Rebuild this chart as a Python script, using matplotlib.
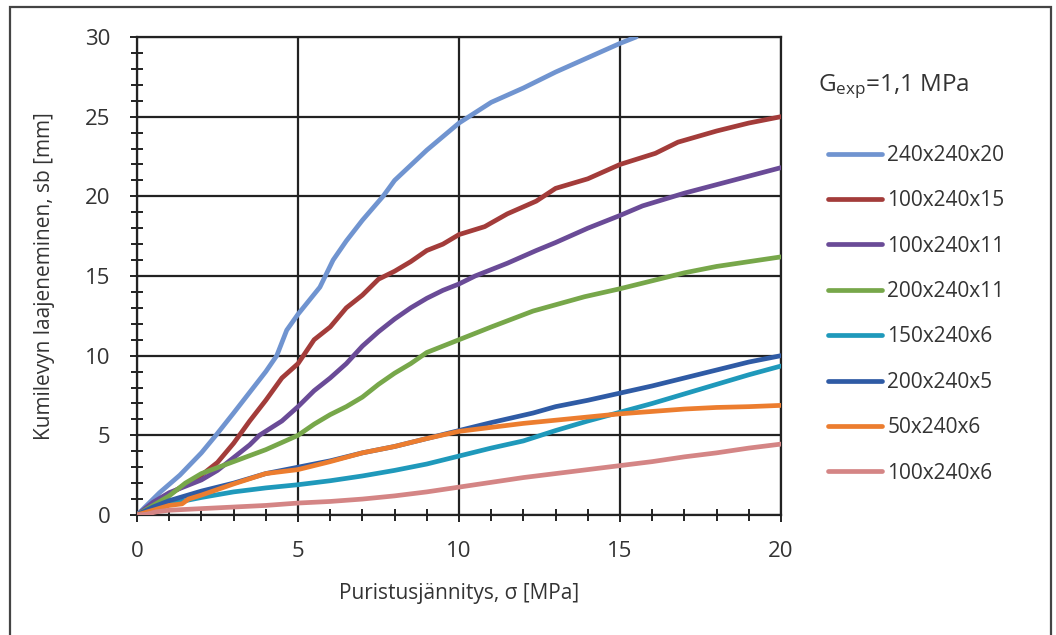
import numpy as np
import matplotlib
matplotlib.use("Agg")
import matplotlib.pyplot as plt
from matplotlib.patches import Rectangle
from matplotlib.ticker import MultipleLocator

plt.rcParams['font.family'] = ['Open Sans', 'DejaVu Sans']
plt.rcParams['mathtext.fontset'] = 'custom'
plt.rcParams['mathtext.rm'] = 'Open Sans'
plt.rcParams['mathtext.it'] = 'Open Sans'

# Data (x = stress MPa, y = expansion mm)
x_240x240x20 = [0, 0.7, 1.33, 2.0, 2.45, 3.0, 3.5, 4.0, 4.34, 4.65, 5.0, 5.68, 6.09, 6.5, 7.0,
                7.64, 8.0, 9.0, 10.0, 11.0, 12.0, 13.0, 14.0, 15.0, 15.5]
y_240x240x20 = [0, 1.4, 2.5, 3.9, 5.0, 6.4, 7.7, 9.0, 10.0, 11.6, 12.6, 14.3, 16.0, 17.2, 18.5,
                20.0, 21.0, 22.9, 24.6, 25.9, 26.8, 27.8, 28.7, 29.6, 30.0]

x_100x240x15 = [0, 1, 2, 2.5, 3, 3.5, 4, 4.5, 5, 5.5, 6, 6.5, 7, 7.5, 8, 8.5, 9, 9.5, 10,
                10.8, 11.5, 12.4, 13, 14, 15, 16.1, 16.8, 18, 19, 20]
y_100x240x15 = [0, 1.3, 2.5, 3.3, 4.5, 5.9, 7.2, 8.6, 9.5, 11.0, 11.8, 13.0, 13.8, 14.8, 15.3,
                15.9, 16.6, 17.0, 17.6, 18.1, 18.9, 19.7, 20.5, 21.1, 22.0, 22.7, 23.4, 24.1, 24.6, 25.0]

x_100x240x11 = [0, 0.5, 1, 2, 2.5, 3, 3.5, 3.8, 4.5, 5, 5.5, 6, 6.5, 7, 7.5, 8, 8.5, 9, 9.5,
                10, 10.5, 11.5, 12.4, 13, 14, 15, 15.7, 17, 18.5, 20]
y_100x240x11 = [0, 0.8, 1.4, 2.2, 2.8, 3.6, 4.4, 5.0, 5.9, 6.8, 7.8, 8.6, 9.5, 10.6, 11.5, 12.3,
                13.0, 13.6, 14.1, 14.5, 15.0, 15.8, 16.6, 17.1, 18.0, 18.8, 19.4, 20.2, 21.0, 21.8]

x_200x240x11 = [0, 0.5, 1, 1.5, 2, 3, 4, 5, 5.5, 6, 6.5, 7, 7.5, 8, 8.5, 9, 10, 11, 12.3,
                13.9, 15, 17, 18, 20]
y_200x240x11 = [0, 0.6, 1.2, 2.0, 2.6, 3.35, 4.1, 5.0, 5.7, 6.3, 6.8, 7.4, 8.2, 8.9, 9.5, 10.2,
                11.0, 11.8, 12.8, 13.7, 14.2, 15.2, 15.6, 16.2]

x_150x240x6 = [0, 0.5, 1, 2, 3, 4, 5, 6, 7, 8, 9, 10, 11, 12, 13, 14, 15, 16, 17, 18, 19, 20]
y_150x240x6 = [0, 0.35, 0.7, 1.1, 1.45, 1.7, 1.9, 2.15, 2.45, 2.8, 3.2, 3.7, 4.2, 4.65, 5.3,
               5.9, 6.45, 7.0, 7.6, 8.2, 8.8, 9.35]

x_200x240x5 = [0, 0.5, 1, 2, 3, 4, 4.5, 5, 6, 7, 8, 9, 10, 11, 12.3, 13, 14, 15, 16, 17, 18, 19, 20]
y_200x240x5 = [0, 0.5, 0.9, 1.5, 2.0, 2.6, 2.8, 3.0, 3.4, 3.9, 4.3, 4.8, 5.3, 5.8, 6.4, 6.8,
               7.2, 7.65, 8.1, 8.6, 9.1, 9.6, 10.0]

x_50x240x6 = [0, 0.5, 1, 1.4, 1.6, 2, 3, 4, 5, 6, 7, 8, 9, 10, 11, 12, 13, 14, 15, 16, 17, 18, 19, 20]
y_50x240x6 = [0, 0.3, 0.6, 0.7, 1.0, 1.25, 1.95, 2.6, 2.85, 3.35, 3.9, 4.3, 4.8, 5.25, 5.5,
              5.75, 5.95, 6.15, 6.35, 6.5, 6.65, 6.75, 6.8, 6.88]

x_100x240x6 = [0, 0.3, 0.6, 1, 2, 3, 4, 5, 6, 7, 8, 9, 10, 11, 12, 13, 14, 15, 16, 17, 18, 19, 20]
y_100x240x6 = [0, 0.05, 0.2, 0.3, 0.4, 0.5, 0.6, 0.75, 0.85, 1.0, 1.2, 1.45, 1.75, 2.05, 2.35,
               2.6, 2.85, 3.1, 3.35, 3.65, 3.9, 4.2, 4.45]

series = [
    ("240x240x20", x_240x240x20, y_240x240x20, "#7094d0"),
    ("100x240x15", x_100x240x15, y_100x240x15, "#a33c3a"),
    ("100x240x11", x_100x240x11, y_100x240x11, "#6a4b97"),
    ("200x240x11", x_200x240x11, y_200x240x11, "#77a74a"),
    ("150x240x6", x_150x240x6, y_150x240x6, "#1f99bb"),
    ("200x240x5", x_200x240x5, y_200x240x5, "#2f5ba5"),
    ("50x240x6", x_50x240x6, y_50x240x6, "#ec7d2f"),
    ("100x240x6", x_100x240x6, y_100x240x6, "#d48585"),
]

fig = plt.figure(figsize=(10.56, 6.35), dpi=100)
ax = fig.add_axes([137/1056, 1-515/635, (781-137)/1056, (515-37)/635])

for name, xs, ys, c in series:
    ax.plot(xs, ys, color=c, lw=3.4, label=name, solid_capstyle='round', zorder=3)

ax.set_xlim(0, 20)
ax.set_ylim(0, 30)
ax.xaxis.set_major_locator(MultipleLocator(5))
ax.yaxis.set_major_locator(MultipleLocator(5))
ax.xaxis.set_minor_locator(MultipleLocator(1))
ax.yaxis.set_minor_locator(MultipleLocator(1))
ax.grid(True, which='major', color='#222222', lw=1.6, zorder=1)
for sp in ax.spines.values():
    sp.set_color('#222222')
    sp.set_linewidth(1.6)
ax.tick_params(axis='both', which='both', direction='inout', color='#222222', width=1.4,
               labelsize=16, labelcolor='#333333')
ax.tick_params(axis='both', which='major', length=10)
ax.tick_params(axis='both', which='minor', length=9)
ax.tick_params(axis='y', which='major', pad=14)
ax.tick_params(axis='x', which='major', pad=14)

ax.set_xlabel("Puristusjännitys, σ [MPa]", fontsize=15, color='#333333', labelpad=15)
ax.set_ylabel("Kumilevyn laajeneminen, sb [mm]", fontsize=15, color='#333333', labelpad=22)

fig.text(818/1056, 1-87/635, r"G$_{\mathrm{exp}}$=1,1 MPa", fontsize=17.5, color='#333333',
         va='center', ha='left')

leg = ax.legend(loc='upper left', bbox_to_anchor=(828/1056, 1-145/635),
                bbox_transform=fig.transFigure, frameon=False, fontsize=15,
                handlelength=2.6, handletextpad=0.25, labelspacing=1.17,
                borderaxespad=0, borderpad=0)
for t in leg.get_texts():
    t.set_color('#333333')

fig.patches.append(Rectangle((10/1056, -0.05), (1051-10)/1056, 1.05-7/635,
                             transform=fig.transFigure, fill=False,
                             edgecolor='#444444', lw=1.6))

fig.savefig("out.png", dpi=100)
